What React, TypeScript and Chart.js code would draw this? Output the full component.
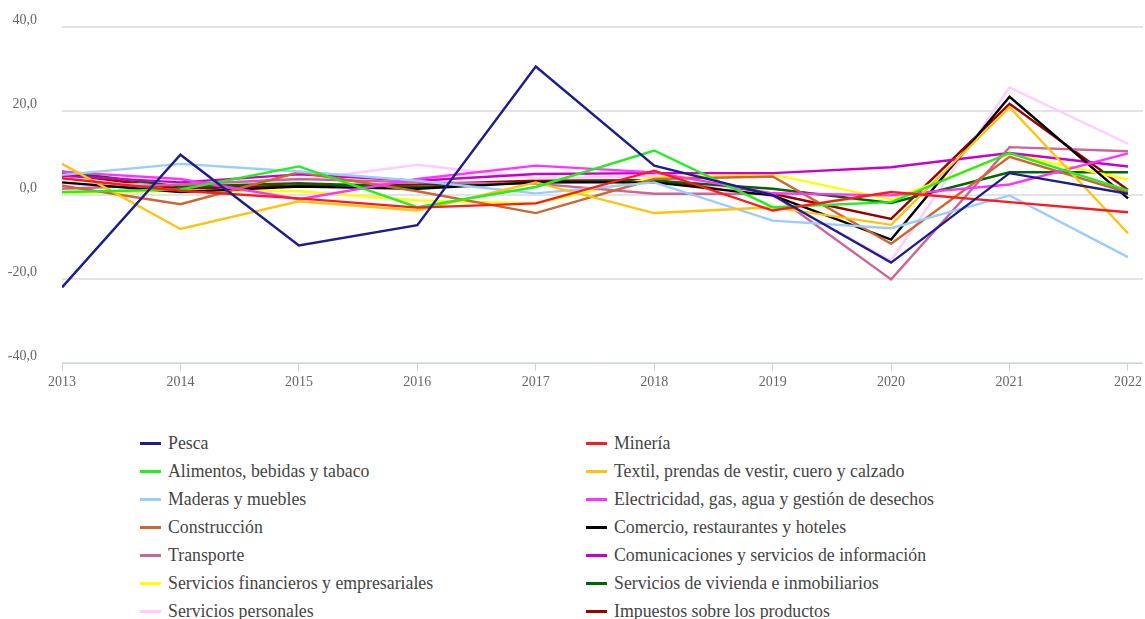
import React, { useEffect, useRef } from "react";
import { Chart, registerables } from "chart.js";

Chart.register(...registerables);

const years = [2013, 2014, 2015, 2016, 2017, 2018, 2019, 2020, 2021, 2022];
const yTicks = [-40, -20, 0, 20, 40];

const seriesNames = [
  "Pesca",
  "Minería",
  "Alimentos, bebidas y tabaco",
  "Textil, prendas de vestir, cuero y calzado",
  "Maderas y muebles",
  "Electricidad, gas, agua y gestión de desechos",
  "Construcción",
  "Comercio, restaurantes y hoteles",
  "Transporte",
  "Comunicaciones y servicios de información",
  "Servicios financieros y empresariales",
  "Servicios de vivienda e inmobiliarios",
  "Servicios personales",
  "Impuestos sobre los productos",
];

const pesca = [-22.0, 9.6, -12.0, -7.2, 30.6, 7.0, 0.0, -16.1, 5.2, 0.3];
const mineria = [4.0, 1.0, -0.8, -3.0, -2.0, 5.8, -3.7, 0.7, -1.7, -4.1];
const alimentos = [0.7, 1.3, 6.8, -2.9, 1.9, 10.6, -2.9, -1.7, 10.0, 1.1];
const textil = [7.4, -8.1, -1.5, -3.7, 3.0, -4.3, -2.9, -7.1, 20.9, -9.1];
const maderas = [4.8, 7.4, 5.6, 3.4, 0.4, 3.0, -6.1, -7.9, -0.1, -14.8];
const electricidad = [5.5, 3.8, -1.0, 3.8, 7.0, 5.4, 0.4, -0.1, 2.5, 9.9];
const construccion = [2.2, -2.2, 5.4, 0.9, -4.3, 3.8, 4.4, -11.6, 9.1, 0.6];
const comercio = [3.0, 0.7, 2.0, 1.5, 3.0, 3.0, -0.1, -10.6, 23.4, -0.8];
const transporte = [1.5, 2.5, 3.8, 3.0, 2.7, 0.3, 0.3, -20.1, 11.4, 10.4];
const comunicaciones = [4.6, 3.0, 4.9, 3.4, 5.0, 5.2, 5.2, 6.6, 10.0, 6.8];
const financieros = [0.5, 1.0, 0.9, -1.3, -2.0, 4.2, 4.9, -1.1, 9.8, 3.7];
const vivienda = [5.6, 2.0, 2.8, 1.9, 3.0, 3.4, 1.5, -1.9, 5.4, 5.4];
const personales = [2.5, 2.5, 3.5, 7.2, 4.0, 4.5, -0.3, -15.6, 25.6, 12.2];
const impuestos = [5.0, 1.5, 2.3, 2.5, 3.4, 3.5, 0.3, -5.7, 21.7, 1.2];

const seriesValues = [
  pesca, mineria, alimentos, textil, maderas, electricidad, construccion,
  comercio, transporte, comunicaciones, financieros, vivienda, personales, impuestos,
];

const seriesColors = [
  "#1c1c8c", "#ff1a1a", "#22ee22", "#ffc20e", "#99ccff", "#ff33ff", "#cc6633",
  "#000000", "#cc6699", "#cc00cc", "#ffff00", "#006600", "#ffccff", "#990000",
];

const FONT = "'Liberation Serif', 'Times New Roman', serif";

export default function App() {
  const ref = useRef<HTMLCanvasElement>(null);

  useEffect(() => {
    const chart = new Chart(ref.current as HTMLCanvasElement, {
      type: "line",
      data: {
        datasets: seriesValues.map((vals, i) => ({
          label: seriesNames[i],
          data: years.map((yr, j) => ({ x: yr, y: vals[j] })),
          borderColor: seriesColors[i],
          backgroundColor: seriesColors[i],
          borderWidth: 2.4,
          pointRadius: 0,
          tension: 0,
          fill: false,
        })),
      },
      options: {
        animation: false,
        responsive: false,
        maintainAspectRatio: false,
        layout: { padding: { left: 0, right: 0, top: 27, bottom: 0 } },
        plugins: { legend: { display: false }, tooltip: { enabled: false } },
        scales: {
          x: {
            type: "linear",
            min: years[0],
            max: years[years.length - 1] + 0.126,
            ticks: {
              stepSize: 1,
              includeBounds: false,
              autoSkip: false,
              maxRotation: 0,
              padding: 3,
              color: "#666",
              font: { family: FONT, size: 14 },
              callback: (v: any) => String(v),
            },
            grid: { drawOnChartArea: false, drawTicks: true, tickLength: 8, color: "#c8d4e8" },
            border: { color: "#c8d4e8", width: 1 },
            afterFit: (s: any) => { s.height = 37; },
          },
          y: {
            min: yTicks[0],
            max: yTicks[yTicks.length - 1],
            afterBuildTicks: (s: any) => { s.ticks = yTicks.map((v) => ({ value: v })); },
            ticks: {
              labelOffset: -7,
              padding: 25,
              color: "#666",
              font: { family: FONT, size: 14 },
              callback: (v: any) => Number(v).toFixed(1).replace(".", ","),
            },
            grid: { color: "#e3e3e3", lineWidth: 2, drawTicks: false },
            border: { display: false },
            afterFit: (s: any) => { s.width = 62; s.paddingTop = 0; s.paddingBottom = 0; },
          },
        },
      },
    });
    return () => chart.destroy();
  }, []);

  return (
    <div style={{ position: "absolute", left: 0, top: 0, width: 1145, height: 619, overflow: "hidden", background: "#fff" }}>
      <canvas ref={ref} width={1145} height={400} style={{ position: "absolute", left: 0, top: 0, width: 1145, height: 400 }} />
      {seriesNames.map((name, i) => {
        const col = i % 2;
        const row = Math.floor(i / 2);
        return (
          <div
            key={name}
            style={{
              position: "absolute",
              left: col === 0 ? 140 : 586,
              top: 443 + row * 28 - 11,
              height: 22,
              display: "flex",
              alignItems: "center",
              whiteSpace: "nowrap",
            }}
          >
            <span style={{ display: "inline-block", width: 21, height: 3, background: seriesColors[i], marginRight: 7 }} />
            <span style={{ fontFamily: FONT, fontSize: 17.8, color: "#444", lineHeight: "22px" }}>{name}</span>
          </div>
        );
      })}
    </div>
  );
}
